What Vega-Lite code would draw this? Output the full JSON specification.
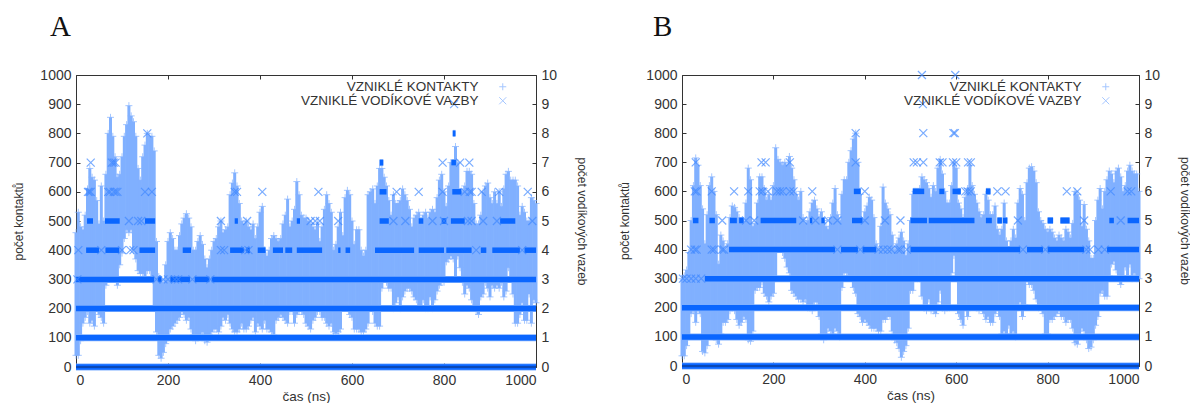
{"$schema":"https://vega.github.io/schema/vega-lite/v6.json","padding":{"left":12,"top":12,"right":0,"bottom":0},"background":"white","bounds":"flush","spacing":146,"resolve":{"scale":{"shape":"independent"}},
"config":{"view":{"stroke":"#333333","strokeWidth":1},"font":"Liberation Sans","axis":{"grid":false,"format":"d","labelFont":"Liberation Sans","titleFont":"Liberation Sans","labelFontSize":14,"titleFontSize":12,"labelColor":"#333333","titleColor":"#333333","titleFontWeight":"normal","tickColor":"#333333","domain":false,"tickSize":-4,"labelPadding":9},"title":{"font":"Liberation Serif","fontSize":29,"fontWeight":"normal","color":"#111111","anchor":"start","frame":"group"}},
"datasets":{
"contactsA":[{"t":0,"lo":40,"hi":460},{"t":5,"lo":40,"hi":530},{"t":10,"lo":90,"hi":480},{"t":15,"lo":150,"hi":470},{"t":20,"lo":170,"hi":520},{"t":25,"lo":190,"hi":610},{"t":30,"lo":150,"hi":680},{"t":35,"lo":160,"hi":650},{"t":40,"lo":140,"hi":640},{"t":45,"lo":200,"hi":570},{"t":50,"lo":180,"hi":490},{"t":55,"lo":170,"hi":620},{"t":60,"lo":150,"hi":500},{"t":65,"lo":280,"hi":660},{"t":70,"lo":300,"hi":800},{"t":75,"lo":300,"hi":855},{"t":80,"lo":310,"hi":790},{"t":85,"lo":310,"hi":720},{"t":90,"lo":280,"hi":650},{"t":95,"lo":350,"hi":660},{"t":100,"lo":390,"hi":720},{"t":105,"lo":440,"hi":790},{"t":110,"lo":470,"hi":830},{"t":115,"lo":460,"hi":895},{"t":120,"lo":470,"hi":860},{"t":125,"lo":400,"hi":840},{"t":130,"lo":370,"hi":790},{"t":135,"lo":330,"hi":680},{"t":140,"lo":320,"hi":640},{"t":145,"lo":320,"hi":720},{"t":150,"lo":310,"hi":760},{"t":155,"lo":330,"hi":800},{"t":160,"lo":330,"hi":790},{"t":165,"lo":300,"hi":790},{"t":170,"lo":200,"hi":740},{"t":175,"lo":120,"hi":430},{"t":180,"lo":40,"hi":310},{"t":185,"lo":30,"hi":300},{"t":190,"lo":50,"hi":290},{"t":195,"lo":80,"hi":350},{"t":200,"lo":100,"hi":430},{"t":205,"lo":130,"hi":460},{"t":210,"lo":140,"hi":440},{"t":215,"lo":150,"hi":400},{"t":220,"lo":160,"hi":400},{"t":225,"lo":170,"hi":450},{"t":230,"lo":190,"hi":490},{"t":235,"lo":180,"hi":510},{"t":240,"lo":160,"hi":525},{"t":245,"lo":170,"hi":510},{"t":250,"lo":130,"hi":480},{"t":255,"lo":110,"hi":400},{"t":260,"lo":90,"hi":400},{"t":265,"lo":100,"hi":430},{"t":270,"lo":110,"hi":450},{"t":275,"lo":120,"hi":420},{"t":280,"lo":90,"hi":370},{"t":285,"lo":85,"hi":340},{"t":290,"lo":110,"hi":370},{"t":295,"lo":120,"hi":400},{"t":300,"lo":130,"hi":430},{"t":305,"lo":130,"hi":440},{"t":310,"lo":120,"hi":480},{"t":315,"lo":140,"hi":500},{"t":320,"lo":170,"hi":460},{"t":325,"lo":160,"hi":470},{"t":330,"lo":180,"hi":480},{"t":335,"lo":150,"hi":590},{"t":340,"lo":130,"hi":630},{"t":345,"lo":120,"hi":665},{"t":350,"lo":120,"hi":620},{"t":355,"lo":130,"hi":560},{"t":360,"lo":150,"hi":500},{"t":365,"lo":130,"hi":490},{"t":370,"lo":130,"hi":500},{"t":375,"lo":140,"hi":480},{"t":380,"lo":160,"hi":470},{"t":385,"lo":170,"hi":490},{"t":390,"lo":120,"hi":440},{"t":395,"lo":150,"hi":480},{"t":400,"lo":140,"hi":530},{"t":405,"lo":130,"hi":550},{"t":410,"lo":160,"hi":400},{"t":415,"lo":130,"hi":380},{"t":420,"lo":130,"hi":400},{"t":425,"lo":120,"hi":440},{"t":430,"lo":110,"hi":450},{"t":435,"lo":160,"hi":440},{"t":440,"lo":170,"hi":430},{"t":445,"lo":180,"hi":440},{"t":450,"lo":170,"hi":490},{"t":455,"lo":160,"hi":520},{"t":460,"lo":150,"hi":575},{"t":465,"lo":190,"hi":480},{"t":470,"lo":190,"hi":500},{"t":475,"lo":150,"hi":540},{"t":480,"lo":180,"hi":635},{"t":485,"lo":190,"hi":590},{"t":490,"lo":190,"hi":520},{"t":495,"lo":180,"hi":510},{"t":500,"lo":150,"hi":510},{"t":505,"lo":140,"hi":500},{"t":510,"lo":130,"hi":490},{"t":515,"lo":160,"hi":480},{"t":520,"lo":170,"hi":470},{"t":525,"lo":190,"hi":490},{"t":530,"lo":190,"hi":430},{"t":535,"lo":170,"hi":480},{"t":540,"lo":170,"hi":540},{"t":545,"lo":150,"hi":590},{"t":550,"lo":140,"hi":560},{"t":555,"lo":150,"hi":530},{"t":560,"lo":120,"hi":400},{"t":565,"lo":115,"hi":420},{"t":570,"lo":120,"hi":480},{"t":575,"lo":130,"hi":530},{"t":580,"lo":210,"hi":450},{"t":585,"lo":210,"hi":580},{"t":590,"lo":200,"hi":605},{"t":595,"lo":180,"hi":590},{"t":600,"lo":170,"hi":500},{"t":605,"lo":130,"hi":420},{"t":610,"lo":130,"hi":470},{"t":615,"lo":130,"hi":470},{"t":620,"lo":120,"hi":400},{"t":625,"lo":120,"hi":380},{"t":630,"lo":130,"hi":400},{"t":635,"lo":150,"hi":590},{"t":640,"lo":200,"hi":600},{"t":645,"lo":190,"hi":610},{"t":650,"lo":150,"hi":560},{"t":655,"lo":140,"hi":620},{"t":660,"lo":140,"hi":680},{"t":665,"lo":270,"hi":680},{"t":670,"lo":310,"hi":650},{"t":675,"lo":290,"hi":620},{"t":680,"lo":270,"hi":570},{"t":685,"lo":270,"hi":520},{"t":690,"lo":200,"hi":590},{"t":695,"lo":220,"hi":560},{"t":700,"lo":240,"hi":560},{"t":705,"lo":200,"hi":570},{"t":710,"lo":240,"hi":610},{"t":715,"lo":260,"hi":590},{"t":720,"lo":270,"hi":570},{"t":725,"lo":270,"hi":540},{"t":730,"lo":260,"hi":480},{"t":735,"lo":240,"hi":510},{"t":740,"lo":230,"hi":520},{"t":745,"lo":210,"hi":530},{"t":750,"lo":210,"hi":500},{"t":755,"lo":230,"hi":520},{"t":760,"lo":200,"hi":530},{"t":765,"lo":200,"hi":510},{"t":770,"lo":240,"hi":530},{"t":775,"lo":200,"hi":540},{"t":780,"lo":230,"hi":530},{"t":785,"lo":260,"hi":580},{"t":790,"lo":280,"hi":640},{"t":795,"lo":290,"hi":660},{"t":800,"lo":290,"hi":600},{"t":805,"lo":360,"hi":550},{"t":810,"lo":370,"hi":620},{"t":815,"lo":380,"hi":700},{"t":820,"lo":370,"hi":700},{"t":825,"lo":300,"hi":755},{"t":830,"lo":380,"hi":700},{"t":835,"lo":340,"hi":600},{"t":840,"lo":290,"hi":600},{"t":845,"lo":250,"hi":620},{"t":850,"lo":280,"hi":670},{"t":855,"lo":270,"hi":670},{"t":860,"lo":230,"hi":660},{"t":865,"lo":210,"hi":560},{"t":870,"lo":190,"hi":490},{"t":875,"lo":180,"hi":490},{"t":880,"lo":240,"hi":520},{"t":885,"lo":250,"hi":600},{"t":890,"lo":290,"hi":620},{"t":895,"lo":270,"hi":630},{"t":900,"lo":240,"hi":580},{"t":905,"lo":280,"hi":560},{"t":910,"lo":270,"hi":600},{"t":915,"lo":280,"hi":560},{"t":920,"lo":270,"hi":600},{"t":925,"lo":290,"hi":550},{"t":930,"lo":240,"hi":610},{"t":935,"lo":260,"hi":660},{"t":940,"lo":340,"hi":670},{"t":945,"lo":300,"hi":640},{"t":950,"lo":250,"hi":640},{"t":955,"lo":150,"hi":640},{"t":960,"lo":150,"hi":620},{"t":965,"lo":180,"hi":520},{"t":970,"lo":220,"hi":550},{"t":975,"lo":160,"hi":530},{"t":980,"lo":160,"hi":500},{"t":985,"lo":250,"hi":500},{"t":990,"lo":150,"hi":580},{"t":995,"lo":230,"hi":570},{"t":1000,"lo":220,"hi":560}],
"contactsB":[{"t":0,"lo":35,"hi":300},{"t":5,"lo":35,"hi":310},{"t":10,"lo":70,"hi":330},{"t":15,"lo":100,"hi":390},{"t":20,"lo":180,"hi":500},{"t":25,"lo":190,"hi":620},{"t":30,"lo":150,"hi":715},{"t":35,"lo":190,"hi":690},{"t":40,"lo":180,"hi":620},{"t":45,"lo":50,"hi":540},{"t":50,"lo":45,"hi":420},{"t":55,"lo":70,"hi":520},{"t":60,"lo":110,"hi":620},{"t":65,"lo":110,"hi":650},{"t":70,"lo":100,"hi":600},{"t":75,"lo":90,"hi":520},{"t":80,"lo":75,"hi":350},{"t":85,"lo":110,"hi":450},{"t":90,"lo":150,"hi":430},{"t":95,"lo":150,"hi":400},{"t":100,"lo":160,"hi":420},{"t":105,"lo":190,"hi":510},{"t":110,"lo":200,"hi":550},{"t":115,"lo":190,"hi":545},{"t":120,"lo":160,"hi":530},{"t":125,"lo":140,"hi":510},{"t":130,"lo":150,"hi":490},{"t":135,"lo":170,"hi":490},{"t":140,"lo":160,"hi":560},{"t":145,"lo":90,"hi":680},{"t":150,"lo":85,"hi":640},{"t":155,"lo":120,"hi":480},{"t":160,"lo":260,"hi":490},{"t":165,"lo":270,"hi":560},{"t":170,"lo":270,"hi":650},{"t":175,"lo":290,"hi":650},{"t":180,"lo":250,"hi":610},{"t":185,"lo":240,"hi":570},{"t":190,"lo":220,"hi":590},{"t":195,"lo":240,"hi":570},{"t":200,"lo":250,"hi":620},{"t":205,"lo":300,"hi":750},{"t":210,"lo":400,"hi":710},{"t":215,"lo":400,"hi":700},{"t":220,"lo":390,"hi":690},{"t":225,"lo":370,"hi":700},{"t":230,"lo":340,"hi":690},{"t":235,"lo":320,"hi":720},{"t":240,"lo":260,"hi":680},{"t":245,"lo":250,"hi":640},{"t":250,"lo":240,"hi":590},{"t":255,"lo":230,"hi":570},{"t":260,"lo":230,"hi":600},{"t":265,"lo":220,"hi":510},{"t":270,"lo":230,"hi":490},{"t":275,"lo":200,"hi":500},{"t":280,"lo":200,"hi":530},{"t":285,"lo":190,"hi":560},{"t":290,"lo":220,"hi":570},{"t":295,"lo":220,"hi":540},{"t":300,"lo":170,"hi":510},{"t":305,"lo":110,"hi":530},{"t":310,"lo":90,"hi":500},{"t":315,"lo":110,"hi":480},{"t":320,"lo":130,"hi":470},{"t":325,"lo":120,"hi":510},{"t":330,"lo":110,"hi":560},{"t":335,"lo":130,"hi":610},{"t":340,"lo":120,"hi":520},{"t":345,"lo":100,"hi":500},{"t":350,"lo":270,"hi":590},{"t":355,"lo":320,"hi":640},{"t":360,"lo":320,"hi":640},{"t":365,"lo":310,"hi":700},{"t":370,"lo":310,"hi":740},{"t":375,"lo":270,"hi":780},{"t":380,"lo":250,"hi":800},{"t":385,"lo":180,"hi":700},{"t":390,"lo":170,"hi":590},{"t":395,"lo":150,"hi":500},{"t":400,"lo":160,"hi":530},{"t":405,"lo":150,"hi":550},{"t":410,"lo":140,"hi":580},{"t":415,"lo":130,"hi":570},{"t":420,"lo":130,"hi":510},{"t":425,"lo":130,"hi":420},{"t":430,"lo":120,"hi":400},{"t":435,"lo":120,"hi":480},{"t":440,"lo":160,"hi":615},{"t":445,"lo":160,"hi":560},{"t":450,"lo":170,"hi":540},{"t":455,"lo":170,"hi":520},{"t":460,"lo":120,"hi":450},{"t":465,"lo":90,"hi":400},{"t":470,"lo":80,"hi":420},{"t":475,"lo":60,"hi":440},{"t":480,"lo":30,"hi":460},{"t":485,"lo":50,"hi":430},{"t":490,"lo":70,"hi":380},{"t":495,"lo":130,"hi":420},{"t":500,"lo":260,"hi":500},{"t":505,"lo":260,"hi":590},{"t":510,"lo":300,"hi":600},{"t":515,"lo":300,"hi":590},{"t":520,"lo":300,"hi":610},{"t":525,"lo":240,"hi":650},{"t":530,"lo":200,"hi":640},{"t":535,"lo":190,"hi":630},{"t":540,"lo":230,"hi":610},{"t":545,"lo":190,"hi":580},{"t":550,"lo":190,"hi":620},{"t":555,"lo":180,"hi":600},{"t":560,"lo":220,"hi":680},{"t":565,"lo":260,"hi":710},{"t":570,"lo":200,"hi":660},{"t":575,"lo":190,"hi":600},{"t":580,"lo":200,"hi":560},{"t":585,"lo":200,"hi":560},{"t":590,"lo":320,"hi":620},{"t":595,"lo":380,"hi":700},{"t":600,"lo":300,"hi":680},{"t":605,"lo":180,"hi":560},{"t":610,"lo":160,"hi":540},{"t":615,"lo":140,"hi":510},{"t":620,"lo":200,"hi":580},{"t":625,"lo":170,"hi":610},{"t":630,"lo":200,"hi":690},{"t":635,"lo":210,"hi":620},{"t":640,"lo":210,"hi":590},{"t":645,"lo":200,"hi":560},{"t":650,"lo":190,"hi":530},{"t":655,"lo":200,"hi":510},{"t":660,"lo":180,"hi":520},{"t":665,"lo":160,"hi":590},{"t":670,"lo":170,"hi":570},{"t":675,"lo":150,"hi":520},{"t":680,"lo":150,"hi":520},{"t":685,"lo":180,"hi":550},{"t":690,"lo":200,"hi":470},{"t":695,"lo":170,"hi":450},{"t":700,"lo":110,"hi":470},{"t":705,"lo":120,"hi":560},{"t":710,"lo":110,"hi":430},{"t":715,"lo":140,"hi":400},{"t":720,"lo":110,"hi":430},{"t":725,"lo":120,"hi":470},{"t":730,"lo":100,"hi":440},{"t":735,"lo":200,"hi":560},{"t":740,"lo":220,"hi":610},{"t":745,"lo":170,"hi":590},{"t":750,"lo":210,"hi":500},{"t":755,"lo":300,"hi":630},{"t":760,"lo":280,"hi":680},{"t":765,"lo":280,"hi":685},{"t":770,"lo":260,"hi":670},{"t":775,"lo":230,"hi":630},{"t":780,"lo":200,"hi":530},{"t":785,"lo":210,"hi":500},{"t":790,"lo":180,"hi":490},{"t":795,"lo":110,"hi":470},{"t":800,"lo":110,"hi":460},{"t":805,"lo":160,"hi":470},{"t":810,"lo":160,"hi":460},{"t":815,"lo":170,"hi":440},{"t":820,"lo":180,"hi":430},{"t":825,"lo":190,"hi":450},{"t":830,"lo":170,"hi":440},{"t":835,"lo":170,"hi":430},{"t":840,"lo":150,"hi":470},{"t":845,"lo":160,"hi":460},{"t":850,"lo":160,"hi":440},{"t":855,"lo":130,"hi":490},{"t":860,"lo":80,"hi":600},{"t":865,"lo":75,"hi":590},{"t":870,"lo":100,"hi":570},{"t":875,"lo":130,"hi":480},{"t":880,"lo":120,"hi":555},{"t":885,"lo":90,"hi":470},{"t":890,"lo":60,"hi":430},{"t":895,"lo":65,"hi":370},{"t":900,"lo":90,"hi":370},{"t":905,"lo":140,"hi":500},{"t":910,"lo":170,"hi":570},{"t":915,"lo":250,"hi":610},{"t":920,"lo":260,"hi":540},{"t":925,"lo":240,"hi":600},{"t":930,"lo":240,"hi":640},{"t":935,"lo":310,"hi":670},{"t":940,"lo":350,"hi":660},{"t":945,"lo":360,"hi":630},{"t":950,"lo":330,"hi":670},{"t":955,"lo":300,"hi":680},{"t":960,"lo":280,"hi":650},{"t":965,"lo":310,"hi":600},{"t":970,"lo":340,"hi":620},{"t":975,"lo":310,"hi":670},{"t":980,"lo":350,"hi":690},{"t":985,"lo":300,"hi":670},{"t":990,"lo":320,"hi":660},{"t":995,"lo":300,"hi":660},{"t":1000,"lo":300,"hi":600}],
"runsA":[{"a":0,"b":1000,"n":0},{"a":0,"b":1000,"n":1},{"a":0,"b":1000,"n":2},{"a":0,"b":170,"n":3},{"a":178,"b":186,"n":3},{"a":205,"b":248,"n":3},{"a":258,"b":290,"n":3},{"a":295,"b":1000,"n":3},{"a":22,"b":50,"n":4},{"a":64,"b":94,"n":4},{"a":138,"b":172,"n":4},{"a":232,"b":250,"n":4},{"a":335,"b":365,"n":4},{"a":370,"b":378,"n":4},{"a":395,"b":412,"n":4},{"a":428,"b":450,"n":4},{"a":455,"b":470,"n":4},{"a":480,"b":535,"n":4},{"a":570,"b":575,"n":4},{"a":586,"b":596,"n":4},{"a":650,"b":735,"n":4},{"a":745,"b":800,"n":4},{"a":805,"b":860,"n":4},{"a":880,"b":892,"n":4},{"a":905,"b":965,"n":4},{"a":975,"b":1000,"n":4},{"a":24,"b":37,"n":5},{"a":63,"b":95,"n":5},{"a":150,"b":172,"n":5},{"a":345,"b":352,"n":5},{"a":480,"b":487,"n":5},{"a":660,"b":680,"n":5},{"a":745,"b":755,"n":5},{"a":795,"b":805,"n":5},{"a":815,"b":845,"n":5},{"a":922,"b":955,"n":5},{"a":660,"b":675,"n":6},{"a":818,"b":838,"n":6},{"a":660,"b":668,"n":7},{"a":816,"b":826,"n":7},{"a":819,"b":825,"n":8}],
"runsB":[{"a":0,"b":1000,"n":0},{"a":0,"b":1000,"n":1},{"a":0,"b":1000,"n":2},{"a":50,"b":1000,"n":3},{"a":103,"b":335,"n":4},{"a":348,"b":385,"n":4},{"a":395,"b":425,"n":4},{"a":500,"b":740,"n":4},{"a":755,"b":790,"n":4},{"a":800,"b":880,"n":4},{"a":930,"b":1000,"n":4},{"a":24,"b":36,"n":5},{"a":60,"b":72,"n":5},{"a":105,"b":120,"n":5},{"a":125,"b":135,"n":5},{"a":172,"b":250,"n":5},{"a":280,"b":285,"n":5},{"a":305,"b":312,"n":5},{"a":372,"b":395,"n":5},{"a":500,"b":536,"n":5},{"a":540,"b":640,"n":5},{"a":665,"b":678,"n":5},{"a":690,"b":700,"n":5},{"a":702,"b":712,"n":5},{"a":800,"b":812,"n":5},{"a":828,"b":848,"n":5},{"a":935,"b":945,"n":5},{"a":975,"b":1000,"n":5},{"a":505,"b":530,"n":6},{"a":592,"b":610,"n":6},{"a":376,"b":391,"n":6},{"a":563,"b":574,"n":6},{"a":665,"b":675,"n":6}],
"bondsA":[{"t":5,"n":4},{"t":55,"n":4},{"t":100,"n":4},{"t":118,"n":4},{"t":125,"n":4},{"t":3,"n":3},{"t":175,"n":3},{"t":190,"n":3},{"t":200,"n":3},{"t":215,"n":3},{"t":222,"n":3},{"t":253,"n":3},{"t":292,"n":3},{"t":115,"n":5},{"t":135,"n":5},{"t":142,"n":5},{"t":315,"n":5},{"t":372,"n":5},{"t":510,"n":5},{"t":520,"n":5},{"t":530,"n":5},{"t":570,"n":5},{"t":690,"n":5},{"t":716,"n":5},{"t":775,"n":5},{"t":800,"n":5},{"t":852,"n":5},{"t":860,"n":5},{"t":885,"n":5},{"t":915,"n":5},{"t":992,"n":5},{"t":26,"n":6},{"t":29,"n":6},{"t":32,"n":6},{"t":70,"n":6},{"t":74,"n":6},{"t":82,"n":6},{"t":86,"n":6},{"t":90,"n":6},{"t":150,"n":6},{"t":165,"n":6},{"t":345,"n":6},{"t":350,"n":6},{"t":405,"n":6},{"t":527,"n":6},{"t":697,"n":6},{"t":745,"n":6},{"t":797,"n":6},{"t":845,"n":6},{"t":856,"n":6},{"t":860,"n":6},{"t":882,"n":6},{"t":920,"n":6},{"t":982,"n":6},{"t":32,"n":7},{"t":78,"n":7},{"t":82,"n":7},{"t":86,"n":7},{"t":797,"n":7},{"t":835,"n":7},{"t":855,"n":7},{"t":155,"n":8},{"t":822,"n":9},{"t":315,"n":4},{"t":322,"n":4},{"t":368,"n":4},{"t":375,"n":4},{"t":870,"n":4},{"t":970,"n":4}],
"bondsB":[{"t":2,"n":3},{"t":10,"n":3},{"t":20,"n":3},{"t":30,"n":3},{"t":42,"n":3},{"t":20,"n":4},{"t":28,"n":4},{"t":32,"n":4},{"t":65,"n":4},{"t":70,"n":4},{"t":88,"n":4},{"t":92,"n":4},{"t":340,"n":4},{"t":390,"n":4},{"t":430,"n":4},{"t":440,"n":4},{"t":450,"n":4},{"t":458,"n":4},{"t":473,"n":4},{"t":478,"n":4},{"t":492,"n":4},{"t":746,"n":4},{"t":795,"n":4},{"t":885,"n":4},{"t":893,"n":4},{"t":911,"n":4},{"t":925,"n":4},{"t":88,"n":5},{"t":140,"n":5},{"t":158,"n":5},{"t":265,"n":5},{"t":292,"n":5},{"t":320,"n":5},{"t":340,"n":5},{"t":400,"n":5},{"t":444,"n":5},{"t":478,"n":5},{"t":735,"n":5},{"t":880,"n":5},{"t":960,"n":5},{"t":28,"n":6},{"t":32,"n":6},{"t":65,"n":6},{"t":114,"n":6},{"t":145,"n":6},{"t":170,"n":6},{"t":176,"n":6},{"t":188,"n":6},{"t":208,"n":6},{"t":214,"n":6},{"t":220,"n":6},{"t":236,"n":6},{"t":244,"n":6},{"t":285,"n":6},{"t":400,"n":6},{"t":620,"n":6},{"t":625,"n":6},{"t":632,"n":6},{"t":690,"n":6},{"t":708,"n":6},{"t":842,"n":6},{"t":865,"n":6},{"t":938,"n":6},{"t":975,"n":6},{"t":983,"n":6},{"t":30,"n":7},{"t":174,"n":7},{"t":183,"n":7},{"t":236,"n":7},{"t":380,"n":7},{"t":507,"n":7},{"t":514,"n":7},{"t":528,"n":7},{"t":564,"n":7},{"t":570,"n":7},{"t":593,"n":7},{"t":600,"n":7},{"t":626,"n":7},{"t":632,"n":7},{"t":380,"n":8},{"t":528,"n":8},{"t":594,"n":8},{"t":597,"n":8},{"t":527,"n":9},{"t":525,"n":10},{"t":598,"n":10}]
},
"hconcat":[
{"width":460,"height":292,"title":{"text":"A","offset":26,"dx":-26},"resolve":{"scale":{"x":"independent","y":"independent"}},"layer":[
{"data":{"name":"contactsA"},"mark":{"type":"rule","stroke":"#80b0ff","strokeWidth":3},"encoding":{"x":{"field":"t","type":"quantitative","scale":{"domain":[0,1000]},"axis":{"values":[0,200,400,600,800,1000],"title":"čas (ns)","titleFontSize":13.5,"titlePadding":2,"labelPadding":10}},"y":{"field":"lo","type":"quantitative","scale":{"domain":[0,1000]},"axis":{"values":[0,100,200,300,400,500,600,700,800,900,1000],"title":"počet kontaktů","titlePadding":14}},"y2":{"field":"hi"}}},
{"data":{"name":"contactsA"},"mark":{"type":"point","filled":false,"strokeWidth":1,"stroke":"#80b0ff","size":49},"encoding":{"x":{"field":"t","type":"quantitative","scale":{"domain":[0,1000]},"axis":null},"y":{"field":"hi","type":"quantitative","scale":{"domain":[0,1000]},"axis":null},"shape":{"datum":"VZNIKLÉ KONTAKTY","scale":{"domain":["VZNIKLÉ KONTAKTY","VZNIKLÉ VODÍKOVÉ VAZBY"],"range":["M-1,0L1,0M0,-1L0,1","M-1,-1L1,1M-1,1L1,-1"]},"legend":{"title":null,"orient":"none","legendX":420,"legendY":5,"labelAlign":"right","labelOffset":-31,"labelFont":"Liberation Sans","labelFontSize":13.5,"labelColor":"#333333","symbolStrokeColor":"#80b0ff","symbolStrokeWidth":1,"symbolSize":49,"rowPadding":-5,"labelLimit":300}}}},
{"data":{"name":"contactsA"},"mark":{"type":"point","filled":false,"strokeWidth":1,"stroke":"#80b0ff","size":49},"encoding":{"x":{"field":"t","type":"quantitative","scale":{"domain":[0,1000]},"axis":null},"y":{"field":"lo","type":"quantitative","scale":{"domain":[0,1000]},"axis":null},"shape":{"datum":"VZNIKLÉ KONTAKTY"}}},
{"data":{"name":"runsA"},"mark":{"type":"rule","stroke":"#7fb0ff","strokeWidth":7},"encoding":{"x":{"field":"a","type":"quantitative","scale":{"domain":[0,1000]},"axis":{"orient":"top","values":[0,200,400,600,800,1000],"labels":false,"title":null}},"x2":{"field":"b"},"y":{"field":"n","type":"quantitative","scale":{"domain":[0,10]},"axis":null}}},
{"data":{"name":"runsA"},"mark":{"type":"rule","stroke":"#0a66ff","strokeWidth":5.5},"encoding":{"x":{"field":"a","type":"quantitative","scale":{"domain":[0,1000]},"axis":null},"x2":{"field":"b"},"y":{"field":"n","type":"quantitative","scale":{"domain":[0,10]},"axis":null}}},
{"data":{"name":"bondsA"},"mark":{"type":"point","filled":false,"strokeWidth":1.2,"stroke":"#4089ff","size":64},"encoding":{"x":{"field":"t","type":"quantitative","scale":{"domain":[0,1000]},"axis":null},"y":{"field":"n","type":"quantitative","scale":{"domain":[0,10]},"axis":{"orient":"right","values":[0,1,2,3,4,5,6,7,8,9,10],"title":"počet vodíkových vazeb","titlePadding":18}},"shape":{"datum":"VZNIKLÉ VODÍKOVÉ VAZBY"}}},
{"data":{"values":[{"a":0,"b":1000,"n":0}]},"mark":{"type":"rule","stroke":"#0b3f9c","strokeWidth":1.5},"encoding":{"x":{"field":"a","type":"quantitative","scale":{"domain":[0,1000]},"axis":null},"x2":{"field":"b"},"y":{"field":"n","type":"quantitative","scale":{"domain":[0,10]},"axis":null}}}
]},
{"width":457,"height":291,"title":{"text":"B","offset":26,"dx":-29},"resolve":{"scale":{"x":"independent","y":"independent"}},"layer":[
{"data":{"name":"contactsB"},"mark":{"type":"rule","stroke":"#80b0ff","strokeWidth":3},"encoding":{"x":{"field":"t","type":"quantitative","scale":{"domain":[0,1000]},"axis":{"values":[0,200,400,600,800,1000],"title":"čas (ns)","titleFontSize":13.5,"titlePadding":2,"labelPadding":10}},"y":{"field":"lo","type":"quantitative","scale":{"domain":[0,1000]},"axis":{"values":[0,100,200,300,400,500,600,700,800,900,1000],"title":"počet kontaktů","titlePadding":14}},"y2":{"field":"hi"}}},
{"data":{"name":"contactsB"},"mark":{"type":"point","filled":false,"strokeWidth":1,"stroke":"#80b0ff","size":49},"encoding":{"x":{"field":"t","type":"quantitative","scale":{"domain":[0,1000]},"axis":null},"y":{"field":"hi","type":"quantitative","scale":{"domain":[0,1000]},"axis":null},"shape":{"datum":"VZNIKLÉ KONTAKTY","scale":{"domain":["VZNIKLÉ KONTAKTY","VZNIKLÉ VODÍKOVÉ VAZBY"],"range":["M-1,0L1,0M0,-1L0,1","M-1,-1L1,1M-1,1L1,-1"]},"legend":{"title":null,"orient":"none","legendX":417,"legendY":5,"labelAlign":"right","labelOffset":-31,"labelFont":"Liberation Sans","labelFontSize":13.5,"labelColor":"#333333","symbolStrokeColor":"#80b0ff","symbolStrokeWidth":1,"symbolSize":49,"rowPadding":-5,"labelLimit":300}}}},
{"data":{"name":"contactsB"},"mark":{"type":"point","filled":false,"strokeWidth":1,"stroke":"#80b0ff","size":49},"encoding":{"x":{"field":"t","type":"quantitative","scale":{"domain":[0,1000]},"axis":null},"y":{"field":"lo","type":"quantitative","scale":{"domain":[0,1000]},"axis":null},"shape":{"datum":"VZNIKLÉ KONTAKTY"}}},
{"data":{"name":"runsB"},"mark":{"type":"rule","stroke":"#7fb0ff","strokeWidth":7},"encoding":{"x":{"field":"a","type":"quantitative","scale":{"domain":[0,1000]},"axis":{"orient":"top","values":[0,200,400,600,800,1000],"labels":false,"title":null}},"x2":{"field":"b"},"y":{"field":"n","type":"quantitative","scale":{"domain":[0,10]},"axis":null}}},
{"data":{"name":"runsB"},"mark":{"type":"rule","stroke":"#0a66ff","strokeWidth":5.5},"encoding":{"x":{"field":"a","type":"quantitative","scale":{"domain":[0,1000]},"axis":null},"x2":{"field":"b"},"y":{"field":"n","type":"quantitative","scale":{"domain":[0,10]},"axis":null}}},
{"data":{"name":"bondsB"},"mark":{"type":"point","filled":false,"strokeWidth":1.2,"stroke":"#4089ff","size":64},"encoding":{"x":{"field":"t","type":"quantitative","scale":{"domain":[0,1000]},"axis":null},"y":{"field":"n","type":"quantitative","scale":{"domain":[0,10]},"axis":{"orient":"right","values":[0,1,2,3,4,5,6,7,8,9,10],"title":"počet vodíkových vazeb","titlePadding":18}},"shape":{"datum":"VZNIKLÉ VODÍKOVÉ VAZBY"}}},
{"data":{"values":[{"a":0,"b":1000,"n":0}]},"mark":{"type":"rule","stroke":"#0b3f9c","strokeWidth":1.5},"encoding":{"x":{"field":"a","type":"quantitative","scale":{"domain":[0,1000]},"axis":null},"x2":{"field":"b"},"y":{"field":"n","type":"quantitative","scale":{"domain":[0,10]},"axis":null}}}
]}
]}
